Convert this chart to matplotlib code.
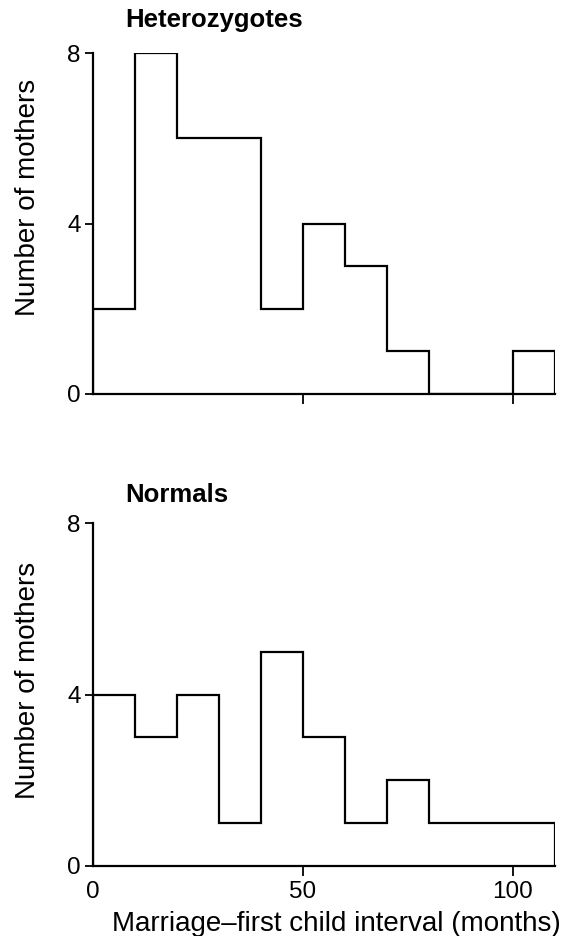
import numpy as np
import matplotlib.pyplot as plt

plt.rcParams['font.family'] = ['Liberation Sans', 'DejaVu Sans']

# bin edges (months) and counts
bin_edges = [0, 10, 20, 30, 40, 50, 60, 70, 80, 90, 100, 110]
heterozygotes = [2, 8, 6, 6, 2, 4, 3, 1, 0, 0, 1]
normals = [4, 3, 4, 1, 5, 3, 1, 2, 1, 1, 1]

panels = [
    ("Heterozygotes", heterozygotes),
    ("Normals", normals),
]

fig = plt.figure(figsize=(5.75, 9.36), dpi=100)
W, H = 575.0, 936.0
# pixel rows of y=8 and y=0, title height (data units), ylabel centre (axes frac)
boxes = [(53, 394, 8.61, 0.575), (523, 866, 8.49, 0.54)]

for i, ((title, counts), (ytop, ybot, ty, ly)) in enumerate(zip(panels, boxes)):
    ax = fig.add_axes([93 / W, 1 - ybot / H, 462 / W, (ybot - ytop) / H])
    ax.stairs(counts, bin_edges, color='black', linewidth=1.6, baseline=0)
    ax.set_xlim(0, 110)
    ax.set_ylim(0, 8)
    for s in ['top', 'right']:
        ax.spines[s].set_visible(False)
    ax.spines['left'].set_linewidth(1.6)
    ax.spines['bottom'].set_linewidth(1.6)
    ax.set_yticks([0, 4, 8])
    ax.tick_params(axis='y', direction='out', length=6, width=1.3, labelsize=17.5, pad=3)
    ax.set_ylabel('Number of mothers', fontsize=20)
    ax.yaxis.set_label_coords(-0.113, ly)
    if i == 0:
        ax.set_xticks([50, 100])
        ax.tick_params(axis='x', direction='out', length=7, width=1.3, labelbottom=False)
    else:
        ax.set_xticks([0, 50, 100])
        ax.tick_params(axis='x', direction='out', length=7, width=1.3, labelsize=17.5, pad=4)
        ax.xaxis.get_major_ticks()[0].tick1line.set_visible(False)
        ax.set_xlabel('Marriage\u2013first child interval (months)', fontsize=20, labelpad=2)
        ax.xaxis.set_label_coords(0.526, -0.13)
    ax.text(7.6, ty, title, fontsize=18.5, fontweight='bold', ha='left', va='baseline')

fig.savefig('out.png', dpi=100)
